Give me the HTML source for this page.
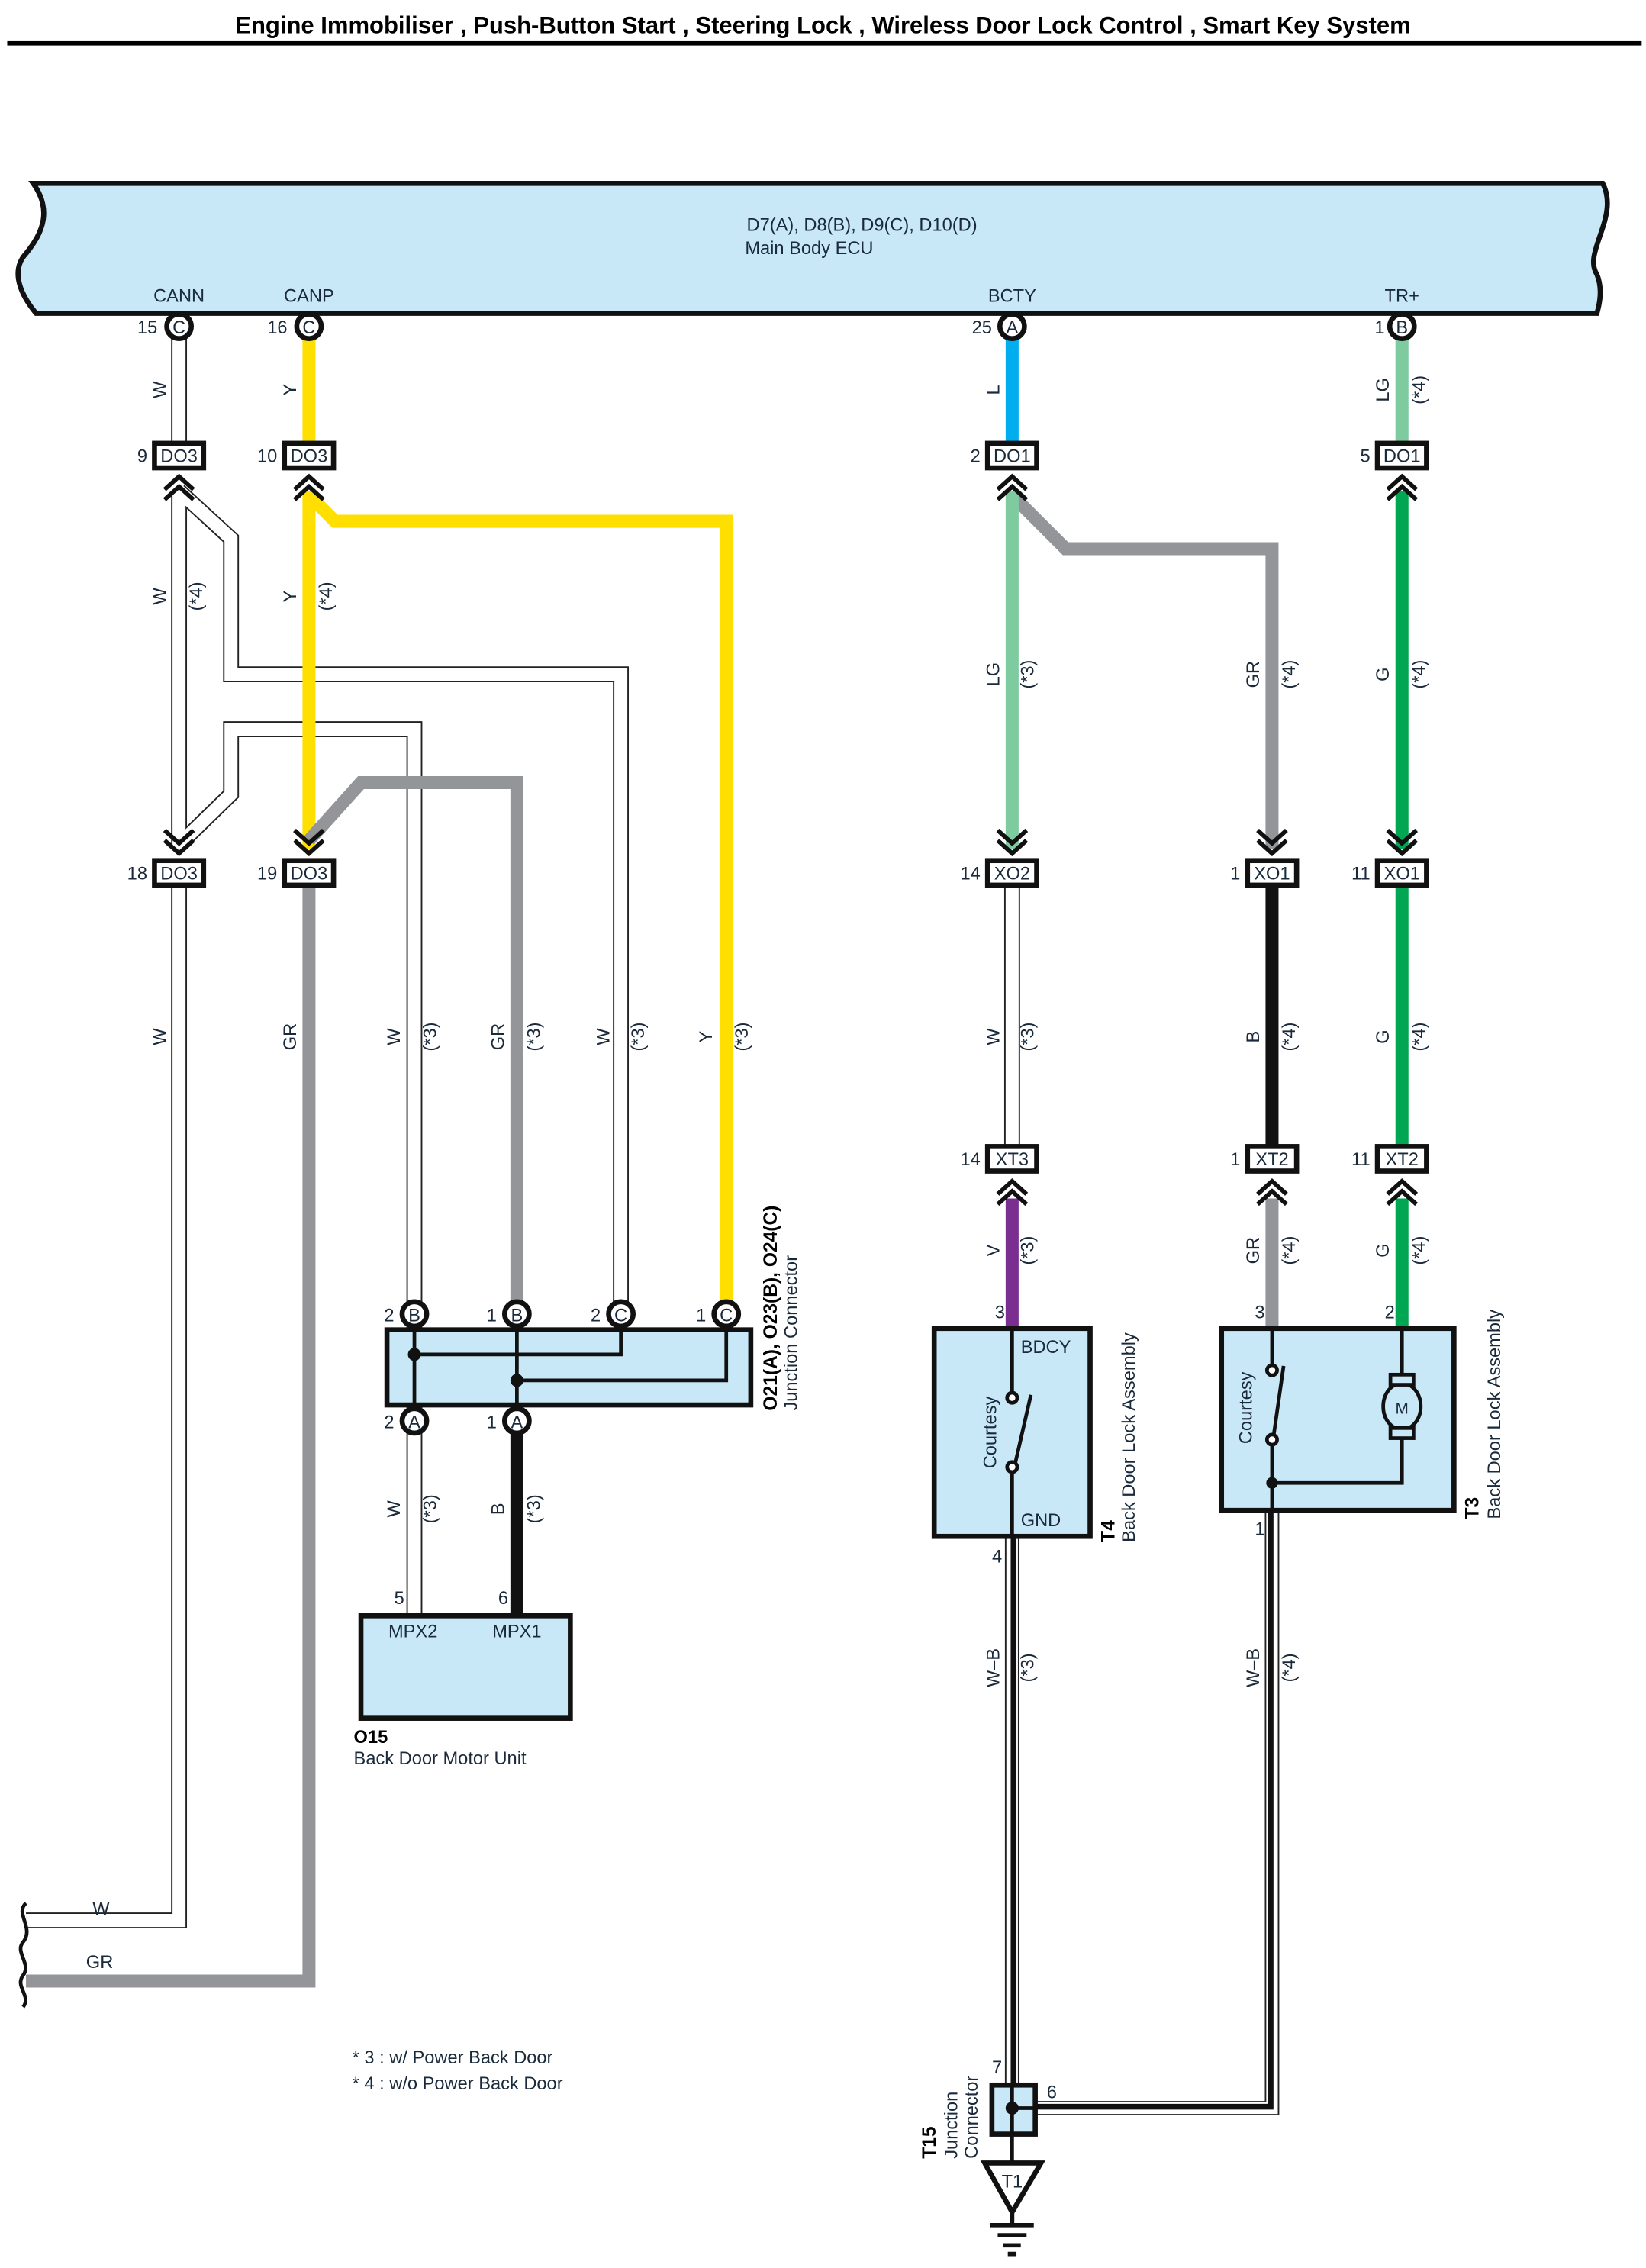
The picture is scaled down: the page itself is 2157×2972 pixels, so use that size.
<!DOCTYPE html>
<html><head><meta charset="utf-8"><style>
html,body{margin:0;padding:0;background:#fff;}
svg{display:block;}
text{font-family:"Liberation Sans",sans-serif;fill:#1a2a3a;}
</style></head><body>
<svg width="2157" height="2972" viewBox="0 0 1140 1570.7" preserveAspectRatio="none" xmlns="http://www.w3.org/2000/svg">
<defs>
<g id="chevU"><path d="M-10,8 L0,-1 L10,8 M-10,15 L0,6 L10,15" fill="none" stroke="#111" stroke-width="3"/></g>
<g id="chevD"><path d="M-10,-8 L0,1 L10,-8 M-10,-15 L0,-6 L10,-15" fill="none" stroke="#111" stroke-width="3"/></g>
</defs>
<rect width="1140" height="1571" fill="#fff"/>
<!-- title -->
<text x="570" y="23" font-size="16.4" font-weight="bold" text-anchor="middle" style="fill:#000">Engine Immobiliser , Push-Button Start , Steering Lock , Wireless Door Lock Control , Smart Key System</text>
<rect x="5" y="28.5" width="1132" height="3" fill="#000"/>

<!-- ECU -->
<path d="M23,127 L1110,127 C1122,150 1096,175 1106,190 C1110,200 1108,210 1106,217 L25,217 C15,205 8,190 16,178 C27,165 38,148 23,127 Z" fill="#c8e8f8" stroke="#111" stroke-width="3.5"/>
<text x="597" y="160" font-size="12.5" text-anchor="middle">D7(A), D8(B), D9(C), D10(D)</text>
<text x="516" y="176" font-size="12.5">Main Body ECU</text>
<g font-size="12.5" text-anchor="middle">
<text x="124" y="209">CANN</text><text x="214" y="209">CANP</text><text x="701" y="209">BCTY</text><text x="971" y="209">TR+</text>
</g>

<!-- ===== WIRES ===== -->
<g fill="none" stroke-linejoin="miter">
<g stroke="#222" stroke-width="11">
<path d="M124,226 V318"/>
<path d="M124,340 V588"/>
<path d="M124,340 L160,373 V467 H430 V912"/>
<path d="M124,585 L160,550 V505 H287 V1118"/>
<path d="M124,604 V1330 H18"/>
<path d="M701,604 V805"/>
</g>
<g stroke="#fff" stroke-width="9">
<path d="M124,226 V318"/>
<path d="M124,340 V588"/>
<path d="M124,340 L160,373 V467 H430 V912"/>
<path d="M124,585 L160,550 V505 H287 V1118"/>
<path d="M124,604 V1330 H18"/>
<path d="M701,604 V805"/>
</g>
<g stroke="#ffdf00" stroke-width="9">
<path d="M214,226 V318"/>
<path d="M214,340 V588"/>
<path d="M214,343 L232,361 H503 V912"/>
</g>
<g stroke="#939598" stroke-width="9">
<path d="M214,582 L250,542 H358 V912"/>
<path d="M214,604 V1372 H18"/>
<path d="M701,343 L738,380 H881 V588"/>
<path d="M881,830 V922"/>
</g>
<path d="M358,984 V1120" stroke="#111" stroke-width="9"/>
<path d="M881,604 V805" stroke="#111" stroke-width="9"/>
<path d="M701,226 V318" stroke="#00aeef" stroke-width="9"/>
<path d="M701,340 V588" stroke="#7fcba0" stroke-width="9"/>
<path d="M971,226 V318" stroke="#7fcba0" stroke-width="9"/>
<g stroke="#00a651" stroke-width="9">
<path d="M971,340 V588"/><path d="M971,604 V805"/><path d="M971,830 V922"/>
</g>
<path d="M701,830 V922" stroke="#7a2e90" stroke-width="9"/>
<g stroke="#222" stroke-width="10">
<path d="M701,1064 V1445"/>
<path d="M881,1046 V1460 H718"/>
</g>
<g stroke="#fff" stroke-width="8">
<path d="M701,1064 V1445"/>
<path d="M881,1046 V1460 H718"/>
</g>
<g stroke="#111" stroke-width="4">
<path d="M702,1064 V1445"/>
<path d="M880,1046 V1459 H718"/>
</g>
</g>

<!-- ECU pins -->
<g font-size="12.5">
<g fill="#fff" stroke="#111" stroke-width="3.5">
<circle cx="124" cy="226" r="8.5"/><circle cx="214" cy="226" r="8.5"/><circle cx="701" cy="226" r="8.5"/><circle cx="971" cy="226" r="8.5"/>
</g>
<g text-anchor="middle"><text x="124" y="231">C</text><text x="214" y="231">C</text><text x="701" y="231">A</text><text x="971" y="231">B</text></g>
<g text-anchor="end"><text x="109" y="231">15</text><text x="199" y="231">16</text><text x="687" y="231">25</text><text x="959" y="231">1</text></g>
</g>

<!-- connector boxes -->
<g font-size="12.5">
<g fill="#fff" stroke="#111" stroke-width="3.5">
<rect x="107" y="307" width="34" height="17"/><rect x="197" y="307" width="34" height="17"/>
<rect x="684" y="307" width="34" height="17"/><rect x="954" y="307" width="34" height="17"/>
<rect x="107" y="596" width="34" height="17"/><rect x="197" y="596" width="34" height="17"/>
<rect x="684" y="596" width="34" height="17"/><rect x="864" y="596" width="34" height="17"/><rect x="954" y="596" width="34" height="17"/>
<rect x="684" y="794" width="34" height="17"/><rect x="864" y="794" width="34" height="17"/><rect x="954" y="794" width="34" height="17"/>
</g>
<g text-anchor="middle">
<text x="124" y="320">DO3</text><text x="214" y="320">DO3</text><text x="701" y="320">DO1</text><text x="971" y="320">DO1</text>
<text x="124" y="609">DO3</text><text x="214" y="609">DO3</text><text x="701" y="609">XO2</text><text x="881" y="609">XO1</text><text x="971" y="609">XO1</text>
<text x="701" y="807">XT3</text><text x="881" y="807">XT2</text><text x="971" y="807">XT2</text>
</g>
<g text-anchor="end">
<text x="102" y="320">9</text><text x="192" y="320">10</text><text x="679" y="320">2</text><text x="949" y="320">5</text>
<text x="102" y="609">18</text><text x="192" y="609">19</text><text x="679" y="609">14</text><text x="859" y="609">1</text><text x="949" y="609">11</text>
<text x="679" y="807">14</text><text x="859" y="807">1</text><text x="949" y="807">11</text>
</g>
</g>
<use href="#chevU" x="124" y="331"/><use href="#chevU" x="214" y="331"/><use href="#chevU" x="701" y="331"/><use href="#chevU" x="971" y="331"/>
<use href="#chevD" x="124" y="590"/><use href="#chevD" x="214" y="590"/><use href="#chevD" x="701" y="590"/><use href="#chevD" x="881" y="590"/><use href="#chevD" x="971" y="590"/>
<use href="#chevU" x="701" y="819"/><use href="#chevU" x="881" y="819"/><use href="#chevU" x="971" y="819"/>

<g font-size="12.5" text-anchor="middle">
<text transform="translate(115,270) rotate(-90)">W</text>
<text transform="translate(205,270) rotate(-90)">Y</text>
<text transform="translate(115,413) rotate(-90)">W</text>
<text transform="translate(140,413) rotate(-90)">(*4)</text>
<text transform="translate(205,413) rotate(-90)">Y</text>
<text transform="translate(230,413) rotate(-90)">(*4)</text>
<text transform="translate(115,718) rotate(-90)">W</text>
<text transform="translate(205,718) rotate(-90)">GR</text>
<text transform="translate(277,718) rotate(-90)">W</text>
<text transform="translate(302,718) rotate(-90)">(*3)</text>
<text transform="translate(349,718) rotate(-90)">GR</text>
<text transform="translate(374,718) rotate(-90)">(*3)</text>
<text transform="translate(422,718) rotate(-90)">W</text>
<text transform="translate(446,718) rotate(-90)">(*3)</text>
<text transform="translate(493,718) rotate(-90)">Y</text>
<text transform="translate(518,718) rotate(-90)">(*3)</text>
<text transform="translate(277,1045) rotate(-90)">W</text>
<text transform="translate(302,1045) rotate(-90)">(*3)</text>
<text transform="translate(349,1045) rotate(-90)">B</text>
<text transform="translate(374,1045) rotate(-90)">(*3)</text>
<text transform="translate(692,270) rotate(-90)">L</text>
<text transform="translate(962,270) rotate(-90)">LG</text>
<text transform="translate(987,270) rotate(-90)">(*4)</text>
<text transform="translate(692,467) rotate(-90)">LG</text>
<text transform="translate(716,467) rotate(-90)">(*3)</text>
<text transform="translate(872,467) rotate(-90)">GR</text>
<text transform="translate(897,467) rotate(-90)">(*4)</text>
<text transform="translate(962,467) rotate(-90)">G</text>
<text transform="translate(987,467) rotate(-90)">(*4)</text>
<text transform="translate(692,718) rotate(-90)">W</text>
<text transform="translate(716,718) rotate(-90)">(*3)</text>
<text transform="translate(872,718) rotate(-90)">B</text>
<text transform="translate(897,718) rotate(-90)">(*4)</text>
<text transform="translate(962,718) rotate(-90)">G</text>
<text transform="translate(987,718) rotate(-90)">(*4)</text>
<text transform="translate(692,866) rotate(-90)">V</text>
<text transform="translate(716,866) rotate(-90)">(*3)</text>
<text transform="translate(872,866) rotate(-90)">GR</text>
<text transform="translate(897,866) rotate(-90)">(*4)</text>
<text transform="translate(962,866) rotate(-90)">G</text>
<text transform="translate(987,866) rotate(-90)">(*4)</text>
<text transform="translate(692,1155) rotate(-90)">W–B</text>
<text transform="translate(716,1155) rotate(-90)">(*3)</text>
<text transform="translate(872,1155) rotate(-90)">W–B</text>
<text transform="translate(897,1155) rotate(-90)">(*4)</text>
<text x="70" y="1326">W</text>
<text x="69" y="1363">GR</text>
</g>
<path d="M18,1318 C10,1325 24,1335 16,1345 C10,1352 22,1360 16,1368 C10,1376 22,1382 16,1390" fill="none" stroke="#111" stroke-width="2.5"/>

<rect x="268" y="921" width="252" height="52" fill="#c8e8f8" stroke="#111" stroke-width="3.5"/>
<g fill="none" stroke="#111" stroke-width="2.5">
<path d="M287,920 V973 M358,920 V973 M430,920 V938 H287 M503,920 V956 H358"/>
</g>
<circle cx="287" cy="938" r="4.5" fill="#111"/><circle cx="358" cy="956" r="4.5" fill="#111"/>
<g font-size="12.5">
<g fill="#fff" stroke="#111" stroke-width="3.5">
<circle cx="287" cy="910" r="8.5"/><circle cx="358" cy="910" r="8.5"/><circle cx="430" cy="910" r="8.5"/><circle cx="503" cy="910" r="8.5"/>
<circle cx="287" cy="984" r="8.5"/><circle cx="358" cy="984" r="8.5"/>
</g>
<g text-anchor="middle"><text x="287" y="915">B</text><text x="358" y="915">B</text><text x="430" y="915">C</text><text x="503" y="915">C</text><text x="287" y="989">A</text><text x="358" y="989">A</text></g>
<g text-anchor="end"><text x="273" y="915">2</text><text x="344" y="915">1</text><text x="416" y="915">2</text><text x="489" y="915">1</text><text x="273" y="989">2</text><text x="344" y="989">1</text></g>
</g>
<text transform="translate(538,977) rotate(-90)" font-size="13" font-weight="bold" style="fill:#000">O21(A), O23(B), O24(C)</text>
<text transform="translate(552,977) rotate(-90)" font-size="12.5">Junction Connector</text>

<rect x="250" y="1119" width="145" height="71" fill="#c8e8f8" stroke="#111" stroke-width="3.5"/>
<g font-size="12.5">
<text x="269" y="1134">MPX2</text><text x="341" y="1134">MPX1</text>
<text x="280" y="1111" text-anchor="end">5</text><text x="352" y="1111" text-anchor="end">6</text>
<text x="245" y="1207" font-weight="bold" style="fill:#000">O15</text>
<text x="245" y="1222">Back Door Motor Unit</text>
</g>

<rect x="647" y="920" width="108" height="144" fill="#c8e8f8" stroke="#111" stroke-width="3.5"/>
<g fill="none" stroke="#111" stroke-width="2.5">
<path d="M701,920 V964 M701,1020 V1064 M703,1014 L714,966"/>
<circle cx="701" cy="968" r="3.5" fill="#fff"/><circle cx="701" cy="1016" r="3.5" fill="#fff"/>
</g>
<g font-size="12.5">
<text x="707" y="937">BDCY</text><text x="707" y="1057">GND</text>
<text x="696" y="913" text-anchor="end">3</text><text x="694" y="1082" text-anchor="end">4</text>
<text transform="translate(690,992) rotate(-90)" text-anchor="middle">Courtesy</text>
<text transform="translate(772,1068) rotate(-90)" font-size="13" font-weight="bold" style="fill:#000">T4</text>
<text transform="translate(786,1068) rotate(-90)">Back Door Lock Assembly</text>
</g>

<rect x="846" y="920" width="161" height="126" fill="#c8e8f8" stroke="#111" stroke-width="3.5"/>
<g fill="none" stroke="#111" stroke-width="2.5">
<path d="M881,920 V945 M881,1001 V1046 M882,995 L889,946 M881,1027 H971 V990 M971,920 V956"/>
<circle cx="881" cy="949" r="3.5" fill="#fff"/><circle cx="881" cy="997" r="3.5" fill="#fff"/>
<ellipse cx="971" cy="974" rx="13" ry="16" fill="#c8e8f8"/>
<rect x="963" y="952" width="16" height="7" fill="#c8e8f8"/>
<rect x="963" y="989" width="16" height="7" fill="#c8e8f8"/>
</g>
<circle cx="881" cy="1027" r="4" fill="#111"/>
<g font-size="12.5">
<text x="971" y="979" text-anchor="middle" font-size="11">M</text>
<text x="876" y="913" text-anchor="end">3</text><text x="966" y="913" text-anchor="end">2</text><text x="876" y="1063" text-anchor="end">1</text>
<text transform="translate(867,975) rotate(-90)" text-anchor="middle">Courtesy</text>
<text transform="translate(1024,1052) rotate(-90)" font-size="13" font-weight="bold" style="fill:#000">T3</text>
<text transform="translate(1039,1052) rotate(-90)">Back Door Lock Assembly</text>
</g>

<rect x="687" y="1444" width="30" height="34" fill="#c8e8f8" stroke="#111" stroke-width="3.5"/>
<g stroke="#111" stroke-width="2.5" fill="none"><path d="M701,1444 V1497 M701,1460 H718"/></g>
<circle cx="701" cy="1460" r="4.5" fill="#111"/>
<path d="M682,1498 L721,1498 L701,1532 Z" fill="#fff" stroke="#111" stroke-width="3.5"/>
<text x="701" y="1515" font-size="12.5" text-anchor="middle">T1</text>
<g stroke="#111" stroke-width="3"><path d="M701,1532 V1541 M686,1541 H716 M691,1548 H711 M695,1555 H707 M698,1561 H704"/></g>
<g font-size="12.5">
<text x="694" y="1436" text-anchor="end">7</text><text x="725" y="1453">6</text>
<text transform="translate(648,1495) rotate(-90)" font-size="13" font-weight="bold" style="fill:#000">T15</text>
<text transform="translate(663,1495) rotate(-90)">Junction</text>
<text transform="translate(677,1495) rotate(-90)">Connector</text>
</g>

<g font-size="12.5">
<text x="244" y="1429">* 3 : w/ Power Back Door</text>
<text x="244" y="1447">* 4 : w/o Power Back Door</text>
</g>
</svg>
</body></html>
